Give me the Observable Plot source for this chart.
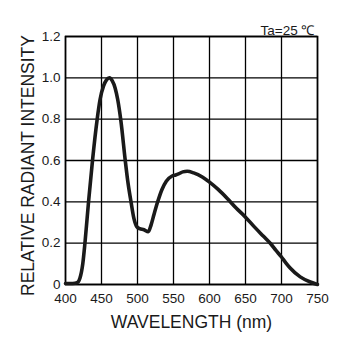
<!DOCTYPE html>
<html>
<head>
<meta charset="utf-8">
<script src="https://cdn.jsdelivr.net/npm/d3@7"></script>
<script src="https://cdn.jsdelivr.net/npm/@observablehq/plot@0.6"></script>
<style>
  html, body { margin: 0; padding: 0; background: #fff; }
  #chart svg { display: block; }
</style>
</head>
<body>
<div id="chart"></div>
<script>
const wavelength = [400, 410, 416, 420, 424, 427, 432, 437.5, 444, 448, 453, 457, 461, 465, 469, 472.5, 477, 483, 486.5, 491, 495, 499, 503, 509, 515, 519, 523, 528, 534, 540, 548, 553, 557, 563, 569, 578, 590, 600, 612, 625, 637, 650, 662, 675, 685, 692, 700, 706, 712, 726, 740, 750];
const intensity  = [0.005, 0.005, 0.008, 0.03, 0.1, 0.2, 0.4, 0.6, 0.8, 0.895, 0.962, 0.99, 1.0, 0.985, 0.95, 0.895, 0.79, 0.6, 0.5, 0.4, 0.32, 0.28, 0.27, 0.265, 0.255, 0.29, 0.34, 0.4, 0.46, 0.5, 0.525, 0.53, 0.535, 0.545, 0.548, 0.54, 0.52, 0.495, 0.46, 0.415, 0.37, 0.326, 0.28, 0.233, 0.197, 0.166, 0.133, 0.105, 0.08, 0.037, 0.012, 0.0];
const xTicks = [400, 450, 500, 550, 600, 650, 700, 750];
const yTicks = [0, 0.2, 0.4, 0.6, 0.8, 1.0, 1.2];
const xLabel = "WAVELENGTH (nm)";
const yLabel = "RELATIVE RADIANT INTENSITY";
const note = "Ta=25 ℃";

const data = wavelength.map((w, i) => ({w, v: intensity[i]}));
const ink = "#1a1a1a";

const chart = Plot.plot({
  width: 352,
  height: 342,
  marginLeft: 65,
  marginRight: 35,
  marginTop: 36,
  marginBottom: 58,
  style: {fontFamily: "'Liberation Sans', Arial, sans-serif", fontSize: "13.5px", color: ink, background: "#fff"},
  x: {domain: [400, 750]},
  y: {domain: [0, 1.2]},
  marks: [
    Plot.gridX(xTicks, {stroke: "#000", strokeOpacity: 1, strokeWidth: 1.3}),
    Plot.gridY(yTicks, {stroke: "#000", strokeOpacity: 1, strokeWidth: 1.3}),
    Plot.frame({stroke: "#000", strokeWidth: 1.6}),
    Plot.axisX(xTicks, {tickSize: 0, tickPadding: 9, label: null, fontSize: 13.5, fill: ink}),
    Plot.axisY(yTicks, {tickSize: 0, tickPadding: 5, label: null, fontSize: 13.5, fill: ink,
      tickFormat: d => d === 0 ? "0" : d.toFixed(1)}),
    Plot.line(data, {x: "w", y: "v", stroke: ink, strokeWidth: 3.6, curve: "monotone-x", strokeLinejoin: "round", strokeLinecap: "round"}),
    Plot.text([xLabel], {frameAnchor: "bottom", text: d => d, textAnchor: "middle", dy: 43.5, lineAnchor: "bottom", fontSize: 17.5, fill: ink}),
    Plot.text([yLabel], {frameAnchor: "left", text: d => d, textAnchor: "middle", rotate: -90, dx: -32, dy: 5, lineAnchor: "bottom", fontSize: 17.5, fill: ink}),
    Plot.text([note], {frameAnchor: "top-right", text: d => d, textAnchor: "end", lineAnchor: "bottom", dx: -3, dy: -2, fontSize: 13.5, fill: ink})
  ]
});
document.getElementById("chart").appendChild(chart);
</script>
</body>
</html>
